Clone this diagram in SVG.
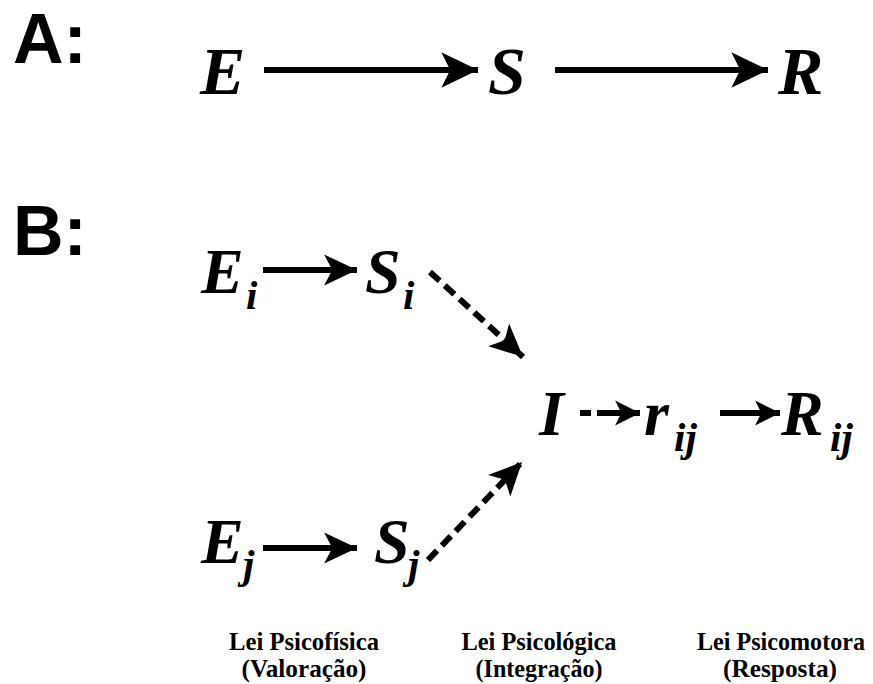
<svg xmlns="http://www.w3.org/2000/svg" width="873" height="684" viewBox="0 0 873 684">
<style>
.m{font-family:"Liberation Serif","Times New Roman",serif;font-weight:bold;font-style:italic;fill:#000}
.a{font-size:68px}
.big{font-size:64px}
.sub{font-size:41px}
.lbl{font-family:"Liberation Serif","Times New Roman",serif;font-weight:bold;font-size:25px;text-anchor:middle;fill:#000}
.hd{font-family:"Liberation Sans",Arial,sans-serif;font-weight:bold;font-size:70px;fill:#000}
.sh{stroke:#000;stroke-width:6;fill:none}
.ds{stroke:#000;stroke-width:6;fill:none;stroke-dasharray:13 7}
</style>
<defs>
<marker id="hL" markerUnits="userSpaceOnUse" markerWidth="40" markerHeight="40" viewBox="-34 -17 36 34" refX="0" refY="0" orient="auto">
<path d="M0,0 L-33,-16 L-25,0 L-33,16 Z" fill="#000"/>
</marker>
<marker id="hM" markerUnits="userSpaceOnUse" markerWidth="36" markerHeight="36" viewBox="-33 -16 35 32" refX="0" refY="0" orient="auto">
<path d="M0,0 L-32,-15 L-24,0 L-32,15 Z" fill="#000"/>
</marker>
<marker id="hS" markerUnits="userSpaceOnUse" markerWidth="28" markerHeight="28" viewBox="-25 -13 27 26" refX="0" refY="0" orient="auto">
<path d="M0,0 L-24,-12 L-18,0 L-24,12 Z" fill="#000"/>
</marker>
</defs>
<g id="labelA"><text class="hd" x="13" y="63">A:</text></g>
<g id="labelB"><text class="hd" x="13" y="255">B:</text></g>
<g id="nodeE"><text class="m a" x="200" y="94">E</text></g>
<g id="nodeS"><text class="m a" x="488" y="94">S</text></g>
<g id="nodeR"><text class="m a" x="778" y="94">R</text></g>
<g id="nodeEi"><text class="m big" x="201" y="293">E</text><text class="m sub" x="246" y="309">i</text></g>
<g id="nodeSi"><text class="m big" x="365" y="293">S</text><text class="m sub" x="403" y="309">i</text></g>
<g id="nodeEj"><text class="m big" x="201" y="563">E</text><text class="m sub" x="243" y="578">j</text></g>
<g id="nodeSj"><text class="m big" x="374" y="563">S</text><text class="m sub" x="408" y="578">j</text></g>
<g id="nodeI"><text class="m big" x="539" y="435">I</text></g>
<g id="nodeRij"><text class="m big" x="644" y="435">r</text><text class="m sub" x="674" y="451">ij</text></g>
<g id="nodeBigRij"><text class="m big" x="781" y="435">R</text><text class="m sub" x="830" y="451">ij</text></g>
<g id="connectors">
<line class="sh" x1="264" y1="70" x2="478" y2="70" marker-end="url(#hL)"/>
<line class="sh" x1="555" y1="70" x2="768" y2="70" marker-end="url(#hL)"/>
<line class="sh" x1="263" y1="270" x2="357" y2="270" marker-end="url(#hM)"/>
<line class="sh" x1="263" y1="548" x2="357" y2="548" marker-end="url(#hM)"/>
<line class="ds" x1="430" y1="272" x2="523" y2="357" marker-end="url(#hM)"/>
<line class="ds" x1="428" y1="560" x2="522" y2="462" marker-end="url(#hM)"/>
<line class="sh" x1="580" y1="413" x2="591" y2="413"/>
<line class="sh" x1="597" y1="413" x2="640" y2="413" marker-end="url(#hS)"/>
<line class="sh" x1="720" y1="413" x2="780" y2="413" marker-end="url(#hS)"/>
</g>
<g id="laws">
<text class="lbl" x="304" y="650" textLength="150" lengthAdjust="spacingAndGlyphs">Lei Psicofísica</text>
<text class="lbl" x="304" y="677" textLength="125" lengthAdjust="spacingAndGlyphs">(Valoração)</text>
<text class="lbl" x="539" y="650" textLength="155" lengthAdjust="spacingAndGlyphs">Lei Psicológica</text>
<text class="lbl" x="539" y="677" textLength="127" lengthAdjust="spacingAndGlyphs">(Integração)</text>
<text class="lbl" x="781" y="650" textLength="168" lengthAdjust="spacingAndGlyphs">Lei Psicomotora</text>
<text class="lbl" x="780" y="677" textLength="114" lengthAdjust="spacingAndGlyphs">(Resposta)</text>
</g>
</svg>
